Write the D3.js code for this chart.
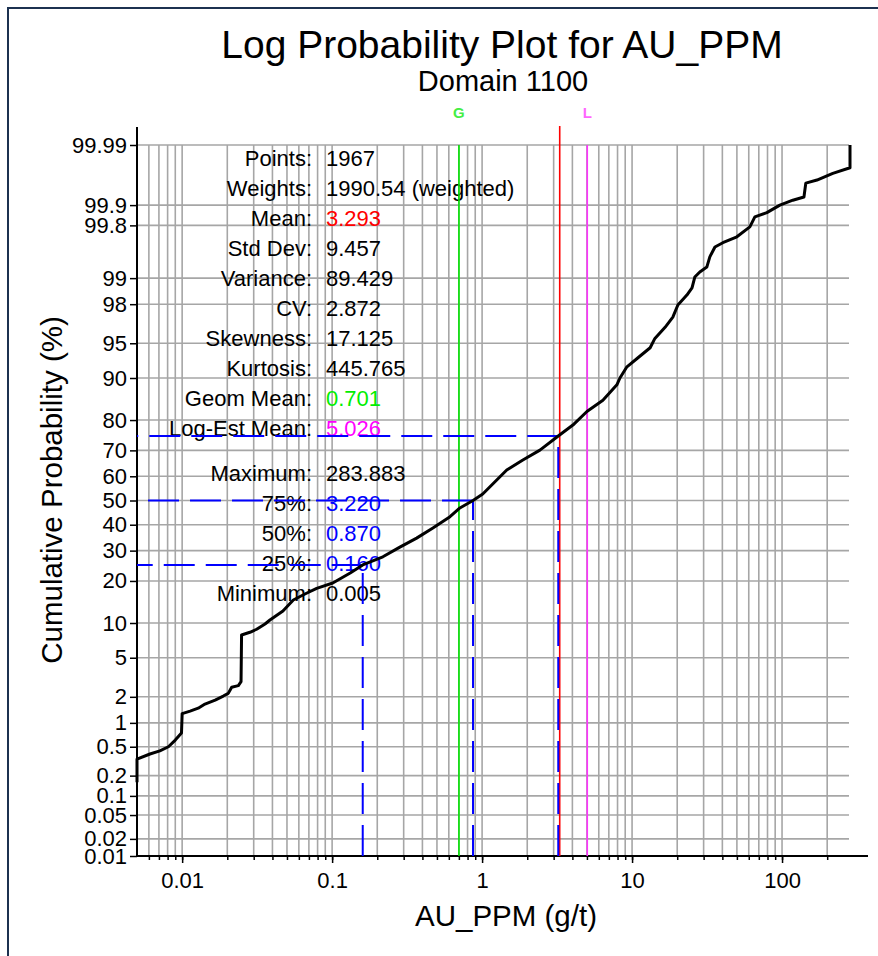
<!DOCTYPE html>
<html lang="en">
  <head>
    <meta charset="UTF-8" />
    <script src="https://d3js.org/d3.v7.min.js"></script>
    <title>Log Probability Plot for AU_PPM</title>
    <style>
      body { margin: 0; background: #fff; }
      svg { font-family: 'Liberation Sans', Arial, sans-serif; }
      .axis text { font-size: 22px; fill: #000; }
      .axis line { stroke: #000; stroke-width: 1.5; }
    </style>
  </head>
  <body>
    <script>
      // cumulative curve (AU ppm vs cumulative %)
      var auValues = [0.005, 0.005, 0.0061, 0.0071, 0.0081, 0.009, 0.0099, 0.01, 0.0113, 0.0128,
        0.0142, 0.0166, 0.0188, 0.0203, 0.0214, 0.0237, 0.0247, 0.0249, 0.0283, 0.0314,
        0.0357, 0.0385, 0.047, 0.0551, 0.0659, 0.0789, 0.101, 0.132, 0.16, 0.218,
        0.283, 0.366, 0.47, 0.611, 0.711, 0.87, 1.01, 1.46, 1.87, 2.43,
        3.22, 4.03, 5.0, 6.39, 7.92, 8.3, 9.24, 10.9, 13.2, 14.2,
        16.6, 18.7, 20.2, 23.2, 25.1, 26.2, 28.3, 31.5, 33.0, 35.7,
        40.3, 50, 61, 65.9, 79.2, 96.7, 118, 140, 144, 171,
        218, 283.883, 283.883]
      var cumPct = [0.16, 0.34, 0.4, 0.44, 0.5, 0.61, 0.75, 1.29, 1.38, 1.49,
        1.66, 1.84, 2.04, 2.18, 2.54, 2.64, 2.9, 7.97, 8.4, 8.9,
        9.82, 10.56, 12.4, 14.9, 16.4, 17.9, 19.4, 22.4, 25, 27.8,
        31.3, 34.7, 38.7, 43.3, 46.9, 50, 52.7, 62.5, 66.4, 70.1,
        75, 78.5, 82.4, 85.3, 88.7, 90.0, 91.9, 93.2, 94.5, 95.5,
        96.5, 97.25, 97.96, 98.42, 98.69, 99.03, 99.16, 99.27, 99.46, 99.6,
        99.65, 99.71, 99.79, 99.85, 99.87, 99.9, 99.916, 99.925, 99.955, 99.96,
        99.969, 99.975, 99.99]

      var xMin = 0.005
      var xMax = 283.883
      var yTicks = [0.01, 0.02, 0.05, 0.1, 0.2, 0.5, 1, 2, 5, 10, 20, 30, 40, 50, 60, 70, 80, 90, 95, 98, 99, 99.8, 99.9, 99.99]
      var yTickLabels = ['0.01', '0.02', '0.05', '0.1', '0.2', '0.5', '1', '2', '5', '10', '20', '30', '40', '50', '60', '70', '80', '90', '95', '98', '99', '99.8', '99.9', '99.99']
      var xMajor = [0.01, 0.1, 1, 10, 100]
      var xMajorLabels = ['0.01', '0.1', '1', '10', '100']

      // stats panel
      var statLabels = ['Points:', 'Weights:', 'Mean:', 'Std Dev:', 'Variance:', 'CV:', 'Skewness:', 'Kurtosis:', 'Geom Mean:', 'Log-Est Mean:',
        'Maximum:', '75%:', '50%:', '25%:', 'Minimum:']
      var statValues = ['1967', '1990.54 (weighted)', '3.293', '9.457', '89.429', '2.872', '17.125', '445.765', '0.701', '5.026',
        '283.883', '3.220', '0.870', '0.160', '0.005']
      var statColors = ['#000', '#000', '#ff0000', '#000', '#000', '#000', '#000', '#000', '#00ee00', '#ff00ff',
        '#000', '#0000ff', '#0000ff', '#0000ff', '#000']

      var mean = 3.293
      var geomMean = 0.701
      var logEstMean = 5.026
      var quartPct = [25, 50, 75]
      var quartVal = [0.16, 0.87, 3.22]

      // inverse normal cdf (Acklam)
      function probit(p) {
        var a = [-39.69683028665376, 220.9460984245205, -275.9285104469687, 138.357751867269, -30.66479806614716, 2.506628277459239]
        var b = [-54.47609879822406, 161.5858368580409, -155.6989798598866, 66.80131188771972, -13.28068155288572]
        var c = [-0.007784894002430293, -0.3223964580411365, -2.400758277161838, -2.549732539343734, 4.374664141464968, 2.938163982698783]
        var d = [0.007784695709041462, 0.3224671290700398, 2.445134137142996, 3.754408661907416]
        var q, r
        if (p < 0.02425) {
          q = Math.sqrt(-2 * Math.log(p))
          return (((((c[0] * q + c[1]) * q + c[2]) * q + c[3]) * q + c[4]) * q + c[5]) / ((((d[0] * q + d[1]) * q + d[2]) * q + d[3]) * q + 1)
        }
        if (p > 1 - 0.02425) {
          q = Math.sqrt(-2 * Math.log(1 - p))
          return -(((((c[0] * q + c[1]) * q + c[2]) * q + c[3]) * q + c[4]) * q + c[5]) / ((((d[0] * q + d[1]) * q + d[2]) * q + d[3]) * q + 1)
        }
        q = p - 0.5
        r = q * q
        return (((((a[0] * r + a[1]) * r + a[2]) * r + a[3]) * r + a[4]) * r + a[5]) * q / (((((b[0] * r + b[1]) * r + b[2]) * r + b[3]) * r + b[4]) * r + 1)
      }

      var width = 878
      var height = 956
      var plotLeft = 137, plotRight = 850, plotTop = 145, plotBottom = 856

      var svg = d3.select('body').append('svg').attr('width', width).attr('height', height)

      // frame
      svg.append('rect').attr('x', 8).attr('y', 8).attr('width', 1000).attr('height', 1000)
        .attr('fill', '#fff').attr('stroke', '#1c3150').attr('stroke-width', 2)

      var x = d3.scaleLog().domain([xMin, xMax]).range([plotLeft, plotRight])
      var yz = d3.scaleLinear().domain([probit(0.0001), probit(0.9999)]).range([plotBottom, plotTop])
      function y(pct) { return yz(probit(pct / 100)) }

      // x grid values 1..9 x 10^k inside domain
      var xGrid = []
      for (var e = -3; e <= 2; e++) {
        for (var m = 1; m <= 9; m++) {
          var v = m * Math.pow(10, e)
          if (v > xMin * 1.001 && v <= xMax) xGrid.push(v)
        }
      }

      var grid = svg.append('g').attr('stroke', '#a6a6a6').attr('stroke-width', 1.6)
      grid.selectAll('.vg').data(xGrid).enter().append('line')
        .attr('x1', function (d) { return x(d) }).attr('x2', function (d) { return x(d) })
        .attr('y1', plotTop).attr('y2', plotBottom)
      grid.selectAll('.hg').data(yTicks).enter().append('line')
        .attr('x1', plotLeft).attr('x2', plotRight - 1)
        .attr('y1', function (d) { return y(d) }).attr('y2', function (d) { return y(d) })

      // titles
      svg.append('text').attr('x', 502).attr('y', 58).attr('text-anchor', 'middle')
        .attr('font-size', 39).text('Log Probability Plot for AU_PPM')
      svg.append('text').attr('x', 503).attr('y', 91).attr('text-anchor', 'middle')
        .attr('font-size', 29).text('Domain 1100')
      svg.append('text').attr('transform', 'translate(62,490) rotate(-90)').attr('text-anchor', 'middle')
        .attr('font-size', 29.5).text('Cumulative Probability (%)')
      svg.append('text').attr('x', 506).attr('y', 926).attr('text-anchor', 'middle')
        .attr('font-size', 29.5).text('AU_PPM (g/t)')

      // stats text
      var stats = svg.append('g').attr('font-size', 22)
      statLabels.forEach(function (s, i) {
        var yy = 166 + i * 30 + (i >= 10 ? 15 : 0)
        stats.append('text').attr('x', 312).attr('y', yy).attr('text-anchor', 'end').attr('fill', '#000').text(s)
        stats.append('text').attr('x', 326).attr('y', yy).attr('fill', statColors[i]).text(statValues[i])
      })

      // axes
      var yAxis = d3.axisLeft(yz)
        .tickValues(yTicks.map(function (p) { return probit(p / 100) }))
        .tickFormat(function (d, i) { return yTickLabels[i] })
        .tickSize(7).tickPadding(3)
      svg.append('g').attr('class', 'axis').attr('transform', 'translate(' + plotLeft + ',0)').call(yAxis)
        .call(function (g) { g.select('.domain').remove() })

      var xMinorAxis = d3.axisBottom(x).tickValues(xGrid).tickFormat('').tickSize(4)
      svg.append('g').attr('class', 'axis').attr('transform', 'translate(0,' + plotBottom + ')').call(xMinorAxis)
        .call(function (g) { g.select('.domain').remove() })
      var xAxis = d3.axisBottom(x).tickValues(xMajor)
        .tickFormat(function (d, i) { return xMajorLabels[i] })
        .tickSize(7).tickPadding(9)
      svg.append('g').attr('class', 'axis').attr('transform', 'translate(0,' + plotBottom + ')').call(xAxis)
        .call(function (g) { g.select('.domain').remove() })

      svg.append('line').attr('x1', plotLeft).attr('x2', 868).attr('y1', plotBottom).attr('y2', plotBottom)
        .attr('stroke', '#000').attr('stroke-width', 2)
      svg.append('line').attr('x1', plotLeft).attr('x2', plotLeft).attr('y1', 127).attr('y2', plotBottom)
        .attr('stroke', '#000').attr('stroke-width', 2)

      // mean lines
      svg.append('line').attr('x1', x(geomMean)).attr('x2', x(geomMean)).attr('y1', plotTop).attr('y2', plotBottom)
        .attr('stroke', '#00e600').attr('stroke-width', 1.6)
      svg.append('line').attr('x1', x(logEstMean)).attr('x2', x(logEstMean)).attr('y1', plotTop).attr('y2', plotBottom)
        .attr('stroke', '#ff33ff').attr('stroke-width', 1.6)
      svg.append('line').attr('x1', x(mean)).attr('x2', x(mean)).attr('y1', 126).attr('y2', plotBottom)
        .attr('stroke', '#ff0000').attr('stroke-width', 1.6)
      svg.append('text').attr('x', x(geomMean)).attr('y', 118).attr('text-anchor', 'middle')
        .attr('font-size', 15).attr('font-weight', 'bold').attr('fill', '#44ee44').text('G')
      svg.append('text').attr('x', x(logEstMean)).attr('y', 118).attr('text-anchor', 'middle')
        .attr('font-size', 15).attr('font-weight', 'bold').attr('fill', '#ff66ff').text('L')

      // quartile dashed lines
      var dash = svg.append('g').attr('stroke', '#0000ff').attr('stroke-width', 2).attr('stroke-dasharray', '31,11').attr('fill', 'none')
      quartPct.forEach(function (p, i) {
        dash.append('path').attr('d', 'M' + x(quartVal[i]) + ',' + y(p) + 'L' + plotLeft + ',' + y(p))
        dash.append('path').attr('d', 'M' + x(quartVal[i]) + ',' + plotBottom + 'L' + x(quartVal[i]) + ',' + y(p))
      })

      // curve
      var line = d3.line()
        .x(function (d) { return x(d[0]) })
        .y(function (d) { return y(d[1]) })
      svg.append('path').datum(d3.zip(auValues, cumPct))
        .attr('d', line).attr('fill', 'none').attr('stroke', '#000').attr('stroke-width', 3)
        .attr('stroke-linejoin', 'round')
    </script>
  </body>
</html>
